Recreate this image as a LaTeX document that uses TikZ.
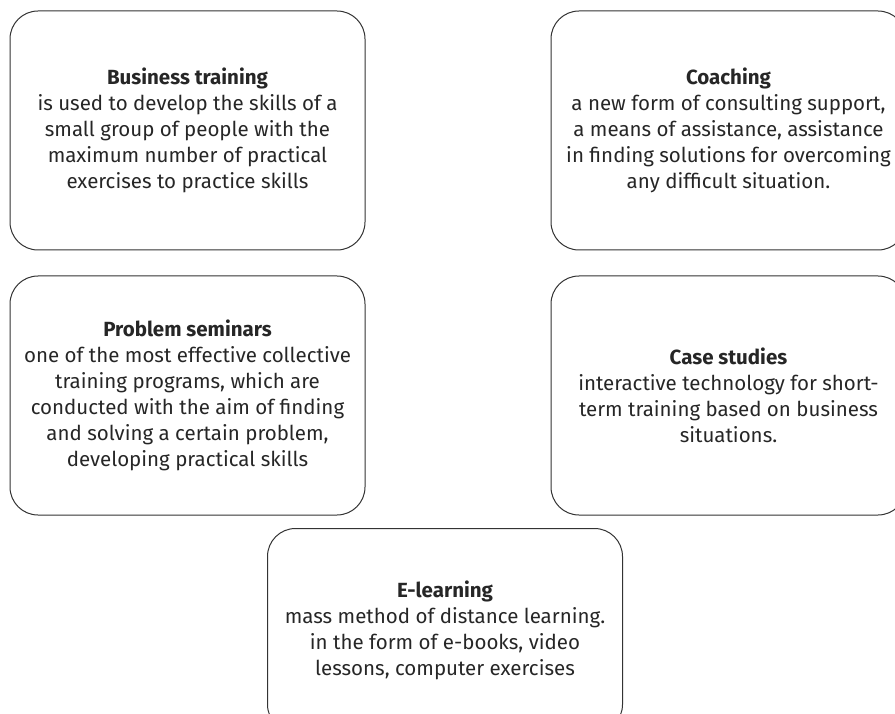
\documentclass[tikz,border=0pt]{standalone}
\usepackage{fontspec}
\setmainfont{Fira Sans}
\usepackage{xcolor}
\usepackage{tikz}
\usetikzlibrary{positioning}

\begin{document}
\begin{tikzpicture}[
  x=1pt, y=-1pt,
  every node/.style={font=\fontsize{20.5}{26}\selectfont, text=black!85},
  method/.style={draw=black!80, line width=1pt, rounded corners=28pt, minimum width=355pt, minimum height=239pt, inner sep=0pt, align=center},
]
\useasboundingbox (0,0) rectangle (895,714);
\node[method] (btrain) at (187.5,130.5) {\textbf{Business training}\\is used to develop the skills of a\\small group of people with the\\maximum number of practical\\exercises to practice skills};
\node[method, right=185pt of btrain] (coach) {\textbf{Coaching}\\a new form of consulting support,\\a means of assistance, assistance\\in finding solutions for overcoming\\any difficult situation.};
\node[method, below=25pt of btrain] (probsem) {\textbf{Problem seminars}\\one of the most effective collective\\training programs, which are\\conducted with the aim of finding\\and solving a certain problem,\\developing practical skills};
\node[method, below=25pt of coach] (cases) {\textbf{Case studies}\\interactive technology for short-\\term training based on business\\situations.};
\node[method, minimum height=204pt, anchor=north west] (elearn) at (267,528) {\textbf{E-learning}\\mass method of distance learning.\\in the form of e-books, video\\lessons, computer exercises};
\end{tikzpicture}
\end{document}
